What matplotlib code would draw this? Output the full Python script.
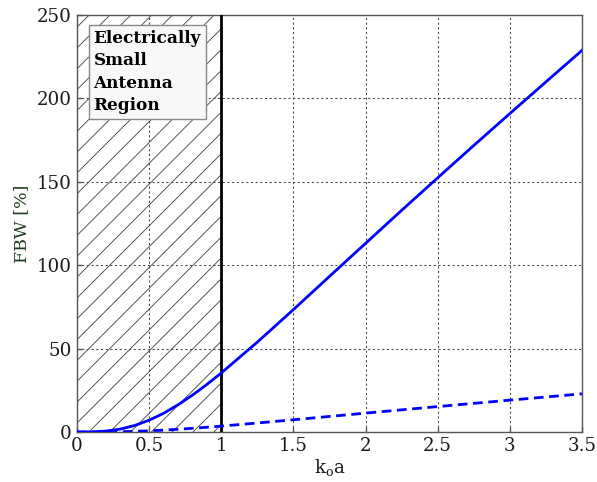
import matplotlib
matplotlib.use("Agg")
import matplotlib.pyplot as plt

# values
ka = [0.0, 0.1, 0.2, 0.3, 0.4, 0.5, 0.6, 0.7, 0.8, 0.9, 1.0,
      1.25, 1.5, 1.75, 2.0, 2.25, 2.5, 2.75, 3.0, 3.25, 3.5]
fbw_solid = [0.0, 0.07, 0.54, 1.75, 3.9, 7.07, 11.2, 16.3, 22.1, 28.5, 35.4,
             53.9, 73.4, 93.3, 113.1, 132.9, 152.4, 171.8, 190.9, 209.9, 228.8]
fbw_dashed = [0.0, 0.007, 0.054, 0.175, 0.39, 0.71, 1.12, 1.63, 2.21, 2.85, 3.54,
              5.39, 7.34, 9.33, 11.31, 13.29, 15.24, 17.18, 19.09, 20.99, 22.88]
xticks = [0, 0.5, 1, 1.5, 2, 2.5, 3, 3.5]
xticklabels = ['0', '0.5', '1', '1.5', '2', '2.5', '3', '3.5']
yticks = [0, 50, 100, 150, 200, 250]
region_label = "Electrically\nSmall\nAntenna\nRegion"

plt.rcParams['font.family'] = ['DejaVu Serif']
plt.rcParams['hatch.linewidth'] = 0.5

fig = plt.figure(figsize=(597/125, 482/125), dpi=125)
ax = fig.add_axes([77/597, 50/482, 505/597, 417/482])

ax.axvspan(0, 1, facecolor='none', edgecolor='#444444', hatch='//', lw=0, zorder=1)
ax.axvline(1, color='k', lw=1.6, zorder=3)

ax.plot(ka, fbw_solid, color='#0000ff', lw=1.6, zorder=4)
ax.plot(ka, fbw_dashed, color='#0000ff', lw=1.6, ls=(0, (3.5, 2)), zorder=4)

ax.set_xlim(0, 3.5)
ax.set_ylim(0, 250)
ax.set_xticks(xticks)
ax.set_xticklabels(xticklabels)
ax.set_yticks(yticks)
ax.grid(True, color='#444444', ls=(0, (2, 2.5)), lw=0.6)
ax.tick_params(labelsize=10.5, colors='#555555', labelcolor='#1a1a1a', direction='in', length=3, pad=3)
for s in ax.spines.values():
    s.set_color('#555555')
    s.set_linewidth(0.8)

ax.set_xlabel(r'k$_{\mathregular{o}}$a', fontsize=10.5, color='#1a1a1a', labelpad=1)
ax.set_ylabel('FBW [%]', fontsize=10, color='#1e3a1e', labelpad=4)

ax.text(0.115, 241, region_label, fontsize=9.7, fontweight='bold', va='top', ha='left',
        linespacing=1.42, zorder=5,
        bbox=dict(boxstyle='square,pad=0.3', facecolor='#f8f8f8', edgecolor='#888888', lw=0.8))

fig.savefig('out.png', dpi=125)
